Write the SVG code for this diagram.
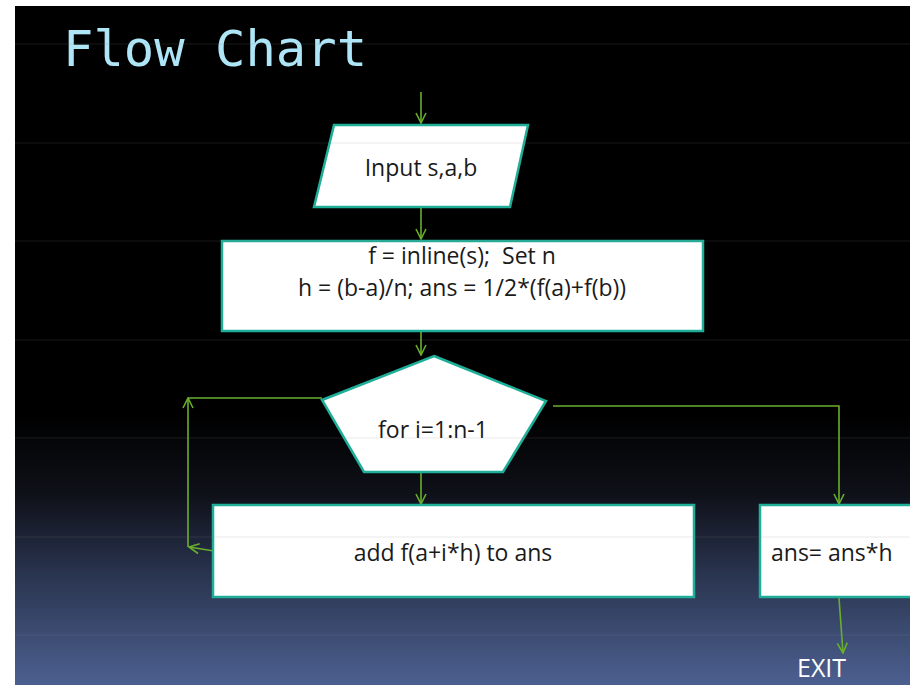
<svg xmlns="http://www.w3.org/2000/svg" width="910" height="685" viewBox="0 0 910 685">
  <defs>
    <linearGradient id="bg" x1="0" y1="6" x2="0" y2="685" gradientUnits="userSpaceOnUse">
      <stop offset="0" stop-color="#000000"/>
      <stop offset="0.6" stop-color="#000000"/>
      <stop offset="0.72" stop-color="#0f1119"/>
      <stop offset="0.84" stop-color="#2a3550"/>
      <stop offset="1" stop-color="#4c6090"/>
    </linearGradient>
    <marker id="arrow" viewBox="0 0 12 12" refX="11" refY="6" markerWidth="12" markerHeight="12" markerUnits="userSpaceOnUse" orient="auto">
      <path d="M1,1 L11,6 L1,11" fill="none" stroke="#6aaf2c" stroke-width="1.6"/>
    </marker>
  </defs>
  <style>
    .node { fill: #ffffff; stroke: #1fae98; stroke-width: 2.5; }
    .label { font-family: "Open Sans", "Liberation Sans", sans-serif; font-size: 23px; fill: #1a1a1a; white-space: pre; }
    .conn { fill: none; stroke: #6aaf2c; stroke-width: 1.6; }
    .rule { stroke: #8a8a8a; stroke-opacity: 0.18; stroke-width: 1.2; }
  </style>

  <!-- page and slide background -->
  <rect x="0" y="0" width="910" height="685" fill="#ffffff"/>
  <rect x="15" y="6" width="895" height="679" fill="url(#bg)"/>

  <text x="63" y="66" font-family="DejaVu Sans Mono, monospace" font-size="50.5" fill="#aee6f7">Flow Chart</text>

  <!-- connectors -->
  <g id="connectors">
    <line class="conn" x1="421" y1="92" x2="421" y2="123" marker-end="url(#arrow)"/>
    <line class="conn" x1="421" y1="208" x2="421" y2="239" marker-end="url(#arrow)"/>
    <line class="conn" x1="421" y1="332" x2="421" y2="355" marker-end="url(#arrow)"/>
    <line class="conn" x1="421" y1="473" x2="421" y2="504" marker-end="url(#arrow)"/>
    <!-- loop back -->
    <line class="conn" x1="214" y1="551" x2="189" y2="547" marker-end="url(#arrow)"/>
    <line class="conn" x1="188" y1="547" x2="188" y2="398" marker-end="url(#arrow)"/>
    <line class="conn" x1="188" y1="398" x2="322" y2="398"/>
    <!-- exit path -->
    <polyline class="conn" points="553,406 839,406 839,504" marker-end="url(#arrow)"/>
    <line class="conn" x1="839" y1="598" x2="843" y2="653" marker-end="url(#arrow)"/>
  </g>

  <g id="input">
    <polygon class="node" points="334,125 528,125 510,207 314,207"/>
    <text class="label" x="421" y="176" text-anchor="middle">Input s,a,b</text>
  </g>

  <g id="init">
    <rect class="node" x="222" y="241" width="481" height="90"/>
    <text class="label" x="462" y="264" text-anchor="middle" xml:space="preserve">f = inline(s);  Set n</text>
    <text class="label" x="462" y="296" text-anchor="middle">h = (b-a)/n; ans = 1/2*(f(a)+f(b))</text>
  </g>

  <g id="loop">
    <polygon class="node" points="434,356 546,401 503,472 364,472 322,400"/>
    <text class="label" x="433" y="438" text-anchor="middle">for i=1:n-1</text>
  </g>

  <g id="accumulate">
    <rect class="node" x="213" y="505" width="481" height="92"/>
    <text class="label" x="453" y="561" text-anchor="middle">add f(a+i*h) to ans</text>
  </g>

  <g id="scale">
    <rect class="node" x="760" y="505" width="160" height="92"/>
    <text class="label" x="771" y="561">ans= ans*h</text>
  </g>

  <g id="exit">
    <text x="797" y="677" font-family="Open Sans, Liberation Sans, sans-serif" font-size="25" fill="#ffffff">EXIT</text>
  </g>

  <!-- faint ruled lines across the slide -->
  <g id="rules">
    <line class="rule" x1="15" y1="44" x2="910" y2="44"/>
    <line class="rule" x1="15" y1="143" x2="910" y2="143"/>
    <line class="rule" x1="15" y1="241" x2="910" y2="241"/>
    <line class="rule" x1="15" y1="340" x2="910" y2="340"/>
    <line class="rule" x1="15" y1="438" x2="910" y2="438"/>
    <line class="rule" x1="15" y1="537" x2="910" y2="537"/>
    <line class="rule" x1="15" y1="635" x2="910" y2="635"/>
  </g>
</svg>
